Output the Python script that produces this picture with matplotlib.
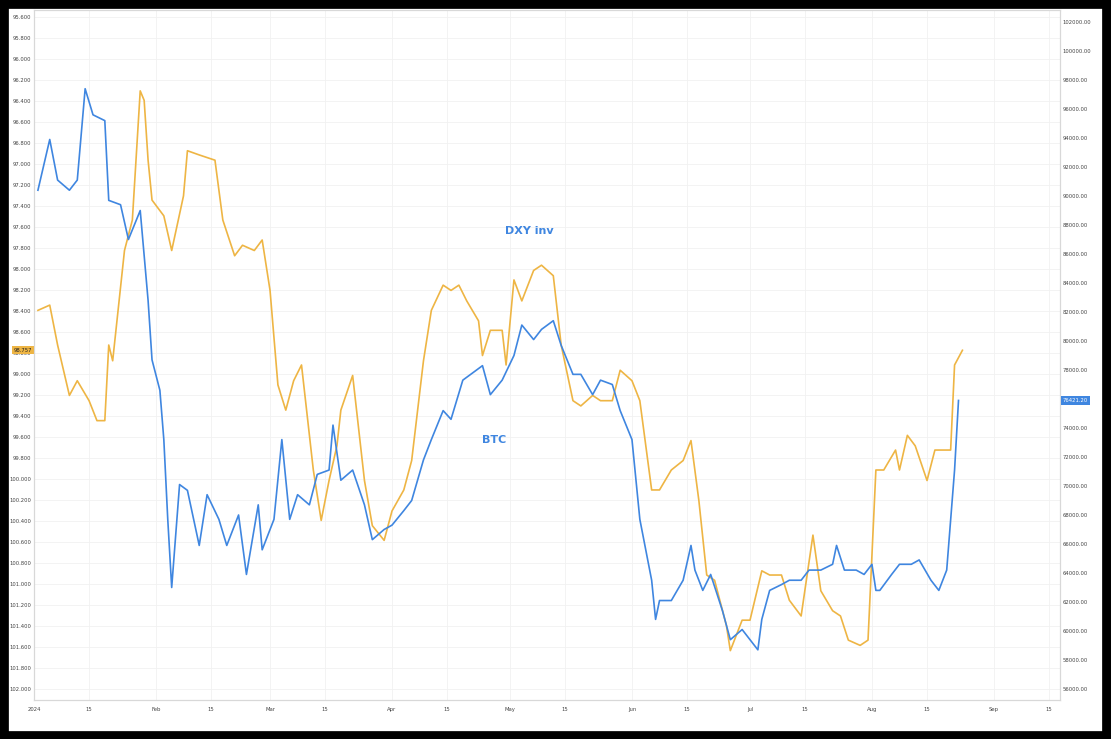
import numpy as np
import pandas as pd
import matplotlib
matplotlib.use("Agg")
import matplotlib.pyplot as plt
from matplotlib.patches import Rectangle

# days since 2024-01-01
btc_day = [1, 4, 6, 9, 11, 13, 15, 18, 19, 22, 24, 27, 29, 30, 32, 33, 34, 35, 37, 39,
           42, 44, 47, 49, 52, 54, 57, 58, 61, 63, 65, 67, 70, 72, 75, 76, 78, 81, 84, 86,
           89, 91, 94, 96, 99, 101, 104, 106, 109, 111, 114, 116, 119, 122, 124, 127, 129, 132, 134, 137,
           139, 142, 144, 147, 149, 152, 154, 157, 158, 159, 162, 165, 167, 168, 170, 172, 175, 177, 180, 182,
           184, 185, 187, 190, 192, 195, 197, 200, 203, 204, 206, 209, 211, 213, 214, 215, 218, 220, 223, 225,
           228, 230, 232, 234, 235]
btc_val = [90400, 93900, 91100, 90400, 91100, 97400, 95600, 95200, 89700, 89400,
           87000, 89000, 82800, 78700, 76600, 73200, 67700, 63000, 70100, 69700,
           65900, 69400, 67700, 65900, 68000, 63900, 68700, 65600, 67700, 73200,
           67700, 69400, 68700, 70800, 71100, 74200, 70400, 71100, 68700, 66300,
           67000, 67300, 68300, 69000, 71800, 73200, 75200, 74600, 77300, 77700,
           78300, 76300, 77300, 79000, 81100, 80100, 80800, 81400, 79700, 77700,
           77700, 76300, 77300, 77000, 75200, 73200, 67700, 63500, 60800, 62100,
           62100, 63500, 65900, 64200, 62800, 63900, 61400, 59400, 60100, 59400,
           58700, 60800, 62800, 63200, 63500, 63500, 64200, 64200, 64600, 65900,
           64200, 64200, 63900, 64600, 62800, 62800, 63900, 64600, 64600, 64900,
           63500, 62800, 64200, 71100, 75900]

dxy_day = [1, 4, 6, 9, 11, 14, 16, 18, 19, 20, 23, 25, 27, 28, 29, 30, 33, 35, 38, 39,
           42, 46, 48, 51, 53, 56, 58, 60, 62, 64, 66, 68, 71, 73, 75, 77, 78, 81, 84, 86,
           89, 91, 94, 96, 99, 101, 104, 106, 108, 110, 113, 114, 116, 119, 120, 122, 124, 127, 129, 132,
           134, 137, 139, 142, 144, 147, 149, 152, 154, 157, 159, 162, 165, 167, 169, 171, 173, 176, 177, 180,
           182, 185, 187, 190, 192, 195, 198, 200, 203, 205, 207, 210, 212, 214, 216, 219, 220, 222, 224, 227,
           229, 233, 234, 236]
dxy_val = [98.39, 98.34, 98.72, 99.20, 99.06, 99.25, 99.44, 99.44, 98.72, 98.87,
           97.82, 97.53, 96.30, 96.39, 96.96, 97.34, 97.49, 97.82, 97.30, 96.87,
           96.91, 96.96, 97.53, 97.87, 97.77, 97.82, 97.72, 98.20, 99.10, 99.34,
           99.06, 98.91, 99.91, 100.39, 100.01, 99.68, 99.34, 99.01, 100.01, 100.44,
           100.58, 100.30, 100.10, 99.82, 98.87, 98.39, 98.15, 98.20, 98.15, 98.30,
           98.49, 98.82, 98.58, 98.58, 98.91, 98.10, 98.30, 98.01, 97.96, 98.06,
           98.72, 99.25, 99.30, 99.20, 99.25, 99.25, 98.96, 99.06, 99.25, 100.10,
           100.10, 99.91, 99.82, 99.63, 100.20, 100.91, 100.96, 101.39, 101.63, 101.34,
           101.34, 100.87, 100.91, 100.91, 101.15, 101.30, 100.53, 101.06, 101.25, 101.30,
           101.53, 101.58, 101.53, 99.91, 99.91, 99.72, 99.91, 99.58, 99.68, 100.01,
           99.72, 99.72, 98.91, 98.77]

blue = "#3f86e0"
orange = "#eeb544"
start = pd.Timestamp("2024-01-01")
btc_dates = start + pd.to_timedelta(btc_day, unit="D")
dxy_dates = start + pd.to_timedelta(dxy_day, unit="D")

fig = plt.figure(figsize=(11.11, 7.39), dpi=100)
W, H = 1111, 739
ax = fig.add_axes([34 / W, 1 - 700 / H, 1026 / W, 690 / H])
ax2 = ax.twinx()

ax.plot(dxy_dates, dxy_val, color=orange, lw=1.2)
ax2.plot(btc_dates, btc_val, color=blue, lw=1.2)

ax.set_ylim(102.10, 95.53)
ax2.set_ylim(55240, 102830)
ax.set_xlim(start, start + pd.Timedelta(days=260.8))

ax.set_yticks(np.arange(95.6, 102.01, 0.2))
ax.yaxis.set_major_formatter(plt.FuncFormatter(lambda v, p: f"{v:.3f}"))
ax2.set_yticks(np.arange(56000, 102001, 2000))
ax2.yaxis.set_major_formatter(plt.FuncFormatter(lambda v, p: f"{v:.2f}"))

ticks = []
labels = []
for m in range(1, 10):
    ticks += [pd.Timestamp(2024, m, 1), pd.Timestamp(2024, m, 15)]
    labels += [pd.Timestamp(2024, m, 1).strftime("%b") if m > 1 else "2024", "15"]
ax.set_xticks(ticks)
ax.set_xticklabels(labels)

for a in (ax, ax2):
    a.tick_params(labelsize=3.8, length=0, colors="#444444", pad=2)
    for s in a.spines.values():
        s.set_color("#d8d8d8")
        s.set_linewidth(0.8)
ax.tick_params(axis="x", pad=5)
ax.grid(True, color="#f1f1f1", lw=0.6)
ax.set_axisbelow(True)

ax2.text(start + pd.Timedelta(days=126), 87600, "DXY inv", color=blue, fontsize=8,
         fontweight="bold", ha="center", va="center")
ax2.text(start + pd.Timedelta(days=117), 73200, "BTC", color=blue, fontsize=8,
         fontweight="bold", ha="center", va="center")

# last-value tags
ax.text(-0.002, 98.77, "98.757", transform=ax.get_yaxis_transform(), fontsize=3.8,
        ha="right", va="center", color="#222222",
        bbox=dict(boxstyle="square,pad=0.3", fc=orange, ec="none"))
ax2.text(1.003, 75900, "76421.20", transform=ax2.get_yaxis_transform(), fontsize=3.8,
         ha="left", va="center", color="white",
         bbox=dict(boxstyle="square,pad=0.4", fc=blue, ec="none"))

fig.patches.append(Rectangle((0.004, 0.004), 0.992, 0.99, transform=fig.transFigure,
                             fill=False, ec="black", lw=7))

fig.savefig("out.png", dpi=100)
